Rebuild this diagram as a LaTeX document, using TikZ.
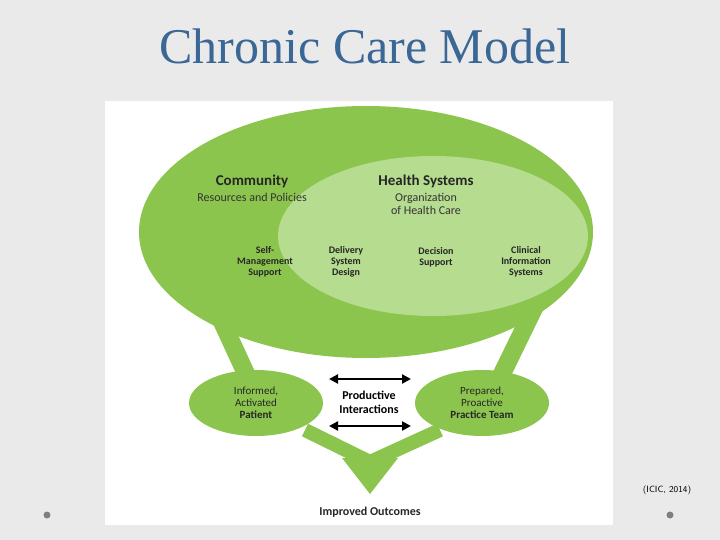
\documentclass[tikz,border=0pt]{standalone}
\usepackage{fontspec}
\setmainfont{Carlito}
\newfontfamily\titlefont{Liberation Serif}
\usetikzlibrary{arrows.meta}
\definecolor{gdark}{HTML}{8CC54E}
\definecolor{glight}{HTML}{B6DC8F}
\definecolor{ttl}{HTML}{3A6796}
\definecolor{bg}{HTML}{EAEAEA}
\tikzset{lbl/.style={align=center,font=\fontsize{10}{11}\selectfont\bfseries,text=black!85},
 sub/.style={align=center,font=\fontsize{12}{13}\selectfont,text=black!80},
 head/.style={align=center,font=\fontsize{15}{16}\selectfont\bfseries,text=black!85},
 leg/.style={gdark,line width=18pt},
 dbl/.style={{Triangle[length=9pt,width=9pt]}-{Triangle[length=9pt,width=9pt]},line width=2.2pt}}
\begin{document}
\begin{tikzpicture}[x=1pt,y=-1pt]
\fill[bg] (0,0) rectangle (720,540);
\useasboundingbox (0,0) rectangle (720,540);
\node[font=\titlefont\fontsize{50}{55}\selectfont,text=ttl] (title) at (365,46) {Chronic Care Model};
\fill[white] (105,101) rectangle (613,525);
% legs
\draw[leg] (212,300) -- (248,378);
\draw[leg] (538,300) -- (500,378);
\draw[gdark,line width=14pt] (305,430) -- (370,462) -- (440,430);
\fill[gdark] (342,458) -- (398,458) -- (370,494) -- cycle;
\fill[gdark] (366,232) ellipse [x radius=227,y radius=126];
\fill[glight] (433,236) ellipse [x radius=155,y radius=80];
\node[head] (comm) at (252,181) {Community};
\node[sub,anchor=north] (res) at (252,190) {Resources and Policies};
\node[head] (hs) at (426,181) {Health Systems};
\node[sub,anchor=north] (org) at (426,190) {Organization\\of Health Care};
\node[lbl] (sm) at (265,262) {Self-\\Management\\Support};
\node[lbl] (dsd) at (346,262) {Delivery\\System\\Design};
\node[lbl] (ds) at (436,257) {Decision\\Support};
\node[lbl] (cis) at (526,262) {Clinical\\Information\\Systems};
\fill[gdark] (256,403) ellipse [x radius=67,y radius=33];
\fill[gdark] (482,403) ellipse [x radius=67,y radius=33];
\node[align=center,font=\fontsize{11}{12}\selectfont,text=black!85] (pat) at (256,403) {Informed,\\Activated\\\textbf{Patient}};
\node[align=center,font=\fontsize{11}{12}\selectfont,text=black!85] (team) at (482,403) {Prepared,\\Proactive\\\textbf{Practice Team}};
\node[align=center,font=\fontsize{12}{14}\selectfont\bfseries] (pi) at (369,402) {Productive\\Interactions};
\coordinate (a1) at (329,379); \coordinate (a2) at (411,379);
\coordinate (b1) at (329,426); \coordinate (b2) at (411,426);
\draw[dbl] (a1) -- (a2);
\draw[dbl] (b1) -- (b2);
\node[font=\fontsize{12}{14}\selectfont\bfseries,text=black!85] (out) at (370,512) {Improved Outcomes};
\node[font=\fontsize{9}{10}\selectfont\sffamily] (cite) at (667,490) {(ICIC, 2014)};
\fill[gray] (47,515) circle (3.5);
\fill[gray] (670,515) circle (3.5);
\end{tikzpicture}
\end{document}
